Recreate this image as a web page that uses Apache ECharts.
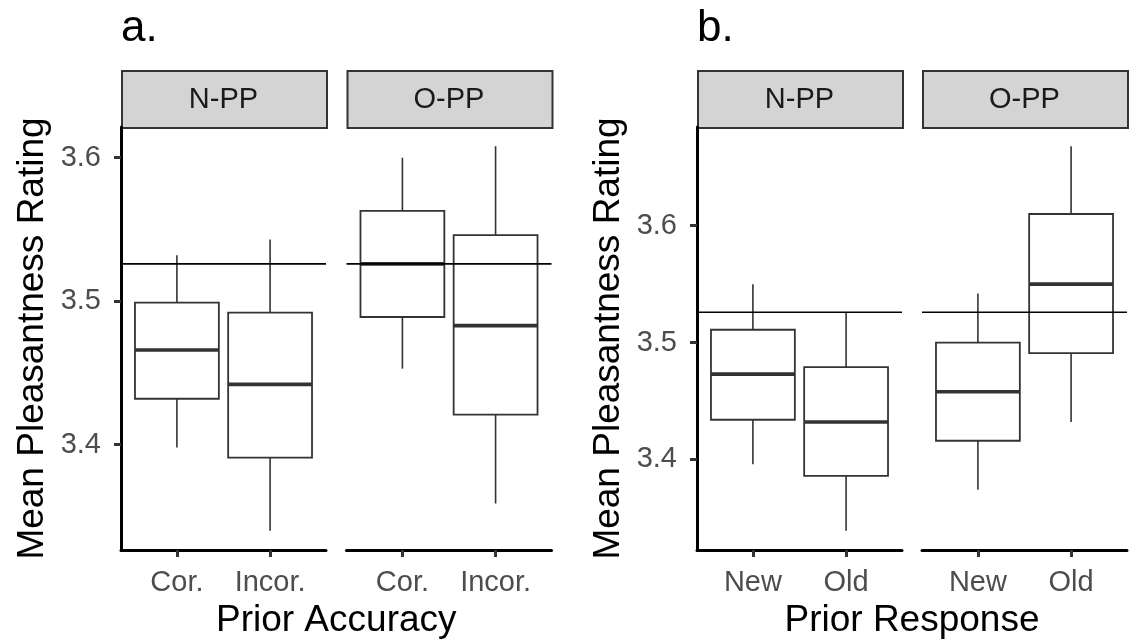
<!DOCTYPE html>
<html>
<head>
<meta charset="utf-8">
<script src="https://cdn.jsdelivr.net/npm/echarts@6/dist/echarts.min.js"></script>
<style>
  html, body { margin: 0; padding: 0; background: #fff; }
  #chart { width: 1129px; height: 644px; }
</style>
</head>
<body>
<div id="chart"></div>
<script>
// categories
const accuracyCats = ['Cor.', 'Incor.'];
const responseCats = ['New', 'Old'];
const facetNames = ['N-PP', 'O-PP'];

// box stats, one row per category: [low whisker, Q1, median, Q3, high whisker]
const accuracyNPP = [[3.398, 3.432, 3.466, 3.499, 3.532], [3.340, 3.391, 3.442, 3.492, 3.543]];
const accuracyOPP = [[3.453, 3.489, 3.526, 3.563, 3.600], [3.359, 3.421, 3.483, 3.546, 3.608]];
const responseNPP = [[3.396, 3.434, 3.473, 3.511, 3.550], [3.339, 3.386, 3.432, 3.479, 3.526]];
const responseOPP = [[3.374, 3.416, 3.458, 3.500, 3.542], [3.432, 3.491, 3.550, 3.610, 3.668]];

const refLine = 3.526;
const yTicks = [3.4, 3.5, 3.6];

const FONT = "'Liberation Sans', Arial, sans-serif";
const panels = [
    { letter: 'a.', xTitle: 'Prior Accuracy', cats: accuracyCats, facets: [accuracyNPP, accuracyOPP] },
    { letter: 'b.', xTitle: 'Prior Response', cats: responseCats, facets: [responseNPP, responseOPP] },
];

// layout (px)
const facetLeft = [[121, 346.5], [697, 922]];
const facetW = 205;
const plotTop = 127;
const plotH = 423;
const stripTop = 70;

function yRange(facets) {
    let lo = Infinity, hi = -Infinity;
    facets.forEach(f => f.forEach(b => { lo = Math.min(lo, b[0]); hi = Math.max(hi, b[4]); }));
    const pad = (hi - lo) * 0.05;
    return [lo - pad, hi + pad];
}

function renderBox(params, api) {
    const x = api.value(0);
    const lo = api.value(1), q1 = api.value(2), med = api.value(3), q3 = api.value(4), hi = api.value(5);
    const half = 0.45;
    const pLo = api.coord([x, lo]);
    const pHi = api.coord([x, hi]);
    const tl = api.coord([x - half, q3]);
    const br = api.coord([x + half, q1]);
    const mL = api.coord([x - half, med]);
    const mR = api.coord([x + half, med]);
    const stroke = '#333333';
    return {
        type: 'group',
        children: [
            { type: 'line', shape: { x1: pLo[0], y1: pLo[1], x2: pLo[0], y2: br[1] }, style: { stroke: stroke, lineWidth: 1.6 } },
            { type: 'line', shape: { x1: pHi[0], y1: pHi[1], x2: pHi[0], y2: tl[1] }, style: { stroke: stroke, lineWidth: 1.6 } },
            { type: 'rect', shape: { x: tl[0], y: tl[1], width: br[0] - tl[0], height: br[1] - tl[1] }, style: { fill: '#ffffff', stroke: stroke, lineWidth: 1.8 } },
            { type: 'line', shape: { x1: mL[0], y1: mL[1], x2: mR[0], y2: mR[1] }, style: { stroke: stroke, lineWidth: 3.6 } },
        ],
    };
}

const grids = [], xAxes = [], yAxes = [], series = [], graphics = [];
let idx = 0;
panels.forEach((panel, p) => {
    const [ymin, ymax] = yRange(panel.facets);
    panel.facets.forEach((facet, f) => {
        const left = facetLeft[p][f];
        grids.push({ left: left, top: plotTop, width: facetW, height: plotH });
        xAxes.push({
            type: 'value', gridIndex: idx, min: 0.4, max: 2.6,
            splitLine: { show: false },
            axisLine: { show: true, onZero: false, lineStyle: { color: '#000', width: 3 } },
            axisTick: { show: true, customValues: [1, 2], length: 7, lineStyle: { color: '#333', width: 3 } },
            axisLabel: {
                customValues: [1, 2],
                formatter: v => panel.cats[Math.round(v) - 1],
                fontSize: 29, color: '#4d4d4d', fontFamily: FONT, margin: 18,
            },
        });
        if (f === 0) {
            yAxes.push({
                type: 'value', gridIndex: idx, min: ymin, max: ymax,
                splitLine: { show: false },
                axisLine: { show: true, onZero: false, lineStyle: { color: '#000', width: 3 } },
                axisTick: { show: true, customValues: yTicks, length: 7, lineStyle: { color: '#333', width: 3 } },
                axisLabel: {
                    customValues: yTicks, formatter: v => v.toFixed(1),
                    fontSize: 29, color: '#4d4d4d', fontFamily: FONT, margin: 20,
                },
                name: 'Mean Pleasantness Rating', nameLocation: 'middle', nameRotate: 90, nameGap: 70,
                nameTextStyle: { fontSize: 37, color: '#000', fontFamily: FONT },
            });
        } else {
            yAxes.push({ type: 'value', gridIndex: idx, min: ymin, max: ymax, show: false, splitLine: { show: false } });
        }
        series.push({
            type: 'custom', xAxisIndex: idx, yAxisIndex: idx,
            renderItem: renderBox,
            encode: { x: 0, y: [1, 2, 3, 4, 5] },
            data: facet.map((b, i) => [i + 1].concat(b)),
            z: 2,
        });
        series.push({
            type: 'line', xAxisIndex: idx, yAxisIndex: idx,
            data: [[0.4, refLine], [2.6, refLine]],
            symbol: 'none', silent: true, z: 5,
            lineStyle: { color: '#000', width: 1.6 },
        });
        // facet strip
        graphics.push({
            type: 'rect', left: left, top: stripTop,
            shape: { width: facetW, height: plotTop - stripTop },
            style: { fill: '#d4d4d4', stroke: '#333333', lineWidth: 2 },
        });
        graphics.push({
            type: 'text', x: left + facetW / 2, y: (stripTop + plotTop) / 2 + 1.5,
            style: { text: facetNames[f], fontSize: 29, fontFamily: FONT, fill: '#1a1a1a', align: 'center', verticalAlign: 'middle' },
        });
        idx++;
    });
    const pLeft = facetLeft[p][0];
    const pRight = facetLeft[p][1] + facetW;
    graphics.push({
        type: 'text', x: pLeft, y: 29,
        style: { text: panel.letter, fontSize: 44, fontFamily: FONT, fill: '#000', align: 'left', verticalAlign: 'middle' },
    });
    graphics.push({
        type: 'text', x: (pLeft + pRight) / 2, y: 621,
        style: { text: panel.xTitle, fontSize: 37, fontFamily: FONT, fill: '#000', align: 'center', verticalAlign: 'middle' },
    });
});

const chart = echarts.init(document.getElementById('chart'), null, { renderer: 'canvas' });
chart.setOption({
    animation: false,
    backgroundColor: '#ffffff',
    grid: grids,
    xAxis: xAxes,
    yAxis: yAxes,
    series: series,
    graphic: graphics,
});
</script>
</body>
</html>
